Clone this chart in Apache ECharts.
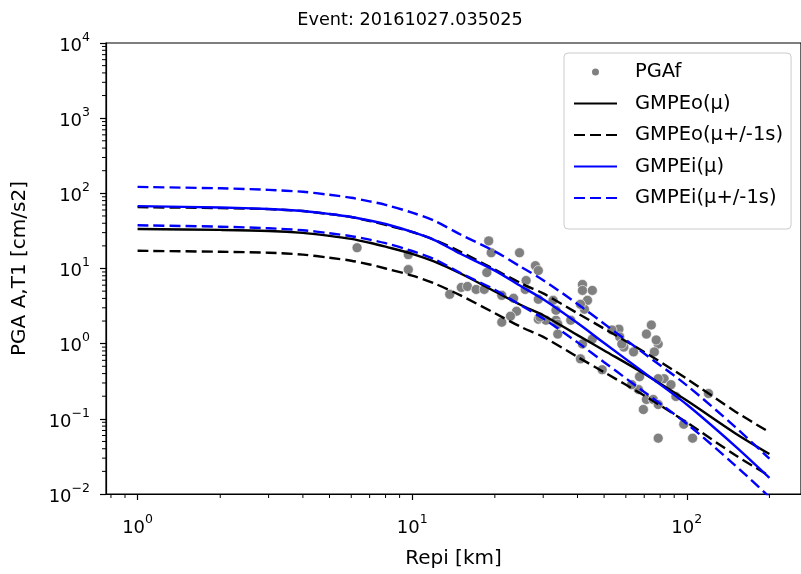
<!DOCTYPE html>
<html>
<head>
<meta charset="utf-8">
<script src="https://cdn.jsdelivr.net/npm/echarts@6/dist/echarts.min.js"></script>
<style>html,body{margin:0;padding:0;background:#fff;}#c{width:801px;height:574px;}</style>
</head>
<body>
<div id="c"></div>
<script>
// Distances (km) at which the model curves are read
const distances = [1, 2, 3, 4, 5, 6, 7, 8, 10, 12, 15, 20, 25, 30, 40, 50, 70, 100, 150, 200];
// GMPEo (black) mean and +/- 1 sigma
const gmpeoMean  = [33.6, 32.6, 31.6, 29.8, 27.2, 24.8, 22.0, 19.5, 15.7, 12.4, 8.57, 4.96, 3.24, 2.39, 1.30, 0.813, 0.398, 0.175, 0.0644, 0.0340];
const gmpeoUpper = [65.5, 63.6, 61.6, 58.1, 53.0, 48.4, 42.9, 38.0, 30.6, 24.2, 16.7, 9.67, 6.32, 4.66, 2.54, 1.585, 0.776, 0.341, 0.1256, 0.0663];
const gmpeoLower = [17.2, 16.7, 16.2, 15.3, 13.9, 12.7, 11.3, 10.0, 8.05, 6.36, 4.39, 2.54, 1.66, 1.23, 0.667, 0.417, 0.204, 0.0897, 0.0330, 0.0174];
// GMPEi (blue) mean and +/- 1 sigma
const gmpeiMean  = [67.6, 64.8, 61.8, 58.2, 53.1, 48.5, 43.5, 39.1, 30.7, 24.1, 15.7, 9.38, 5.77, 3.89, 1.88, 1.02, 0.410, 0.155, 0.0434, 0.0164];
const gmpeiUpper = [121.7, 116.6, 111.2, 104.8, 95.6, 87.3, 78.3, 70.4, 55.3, 43.4, 28.3, 16.9, 10.4, 7.0, 3.38, 1.84, 0.738, 0.279, 0.0781, 0.0295];
const gmpeiLower = [37.6, 36.0, 34.3, 32.3, 29.5, 26.9, 24.2, 21.7, 17.1, 13.4, 8.72, 5.21, 3.21, 2.16, 1.04, 0.567, 0.228, 0.0861, 0.0241, 0.0091];
// Observed PGAf points
const pgaDist = [6.30, 9.68, 9.68, 19.0, 19.4, 24.6, 18.7, 28.1, 26.0, 15.1, 15.9, 17.1, 18.3, 13.7, 21.2, 23.4, 28.8, 25.8, 24.0, 22.8,
  21.2, 28.8, 28.8, 41.7, 45.3, 41.7, 43.5, 42.4, 32.6, 30.7, 33.4, 33.9, 41.7, 45.3, 56.6, 57.0, 74.3, 71.3, 78.7, 59.0,
  64.0, 49.2, 41.0, 66.7, 71.3, 69.5, 75.5, 77.4, 76.2, 82.7, 87.6, 78.7, 91.3, 78.7, 120, 97.5, 78.7, 105, 37.8, 33.4,
  53.4, 58.0, 63.0, 29.2, 67.3, 33.9, 41.0];
const pgaVal = [18.9, 15.3, 9.67, 23.3, 16.2, 16.2, 8.83, 10.9, 6.92, 5.60, 5.77, 5.27, 5.27, 4.53, 4.39, 4.01, 3.89, 5.27, 2.70, 2.32,
  1.93, 2.12, 9.38, 6.13, 5.11, 5.11, 3.77, 2.87, 3.77, 2.05, 2.05, 1.34, 0.99, 1.15, 1.56, 1.23, 1.77, 1.34, 0.99, 0.90,
  0.777, 0.450, 0.628, 0.245, 0.181, 0.133, 0.181, 1.12, 0.777, 0.342, 0.285, 0.342, 0.198, 0.155, 0.217, 0.0846, 0.0553, 0.0553, 2.05, 2.78,
  1.52, 0.99, 0.285, 2.25, 0.364, 1.82, 3.34];
// Tick decades
const xTickExps = [0, 1, 2];
const yTickExps = [-2, -1, 0, 1, 2, 3, 4];

const L = Math.log10;
const xMin = -0.115, xMax = 2.416, yMin = -2, yMax = 4;
function minorTicks(lo, hi) {
  const out = [];
  for (let e = Math.floor(lo) - 1; e <= Math.ceil(hi); e++) {
    for (let k = 2; k <= 9; k++) {
      const v = e + L(k);
      if (v > lo + 1e-9 && v < hi - 1e-9) out.push(v);
    }
  }
  return out;
}
const xMinor = minorTicks(xMin, xMax);
const yMinor = minorTicks(yMin, yMax);
function supLabel(v) {
  const e = Math.round(v);
  const s = e < 0 ? '\u2212' + (-e) : String(e);
  return '{b|10}{s|' + s + '}';
}
const font = 'DejaVu Sans';
const richTick = {
  b: { fontFamily: font, fontSize: 18, color: '#000', lineHeight: 24, verticalAlign: 'bottom' },
  s: { fontFamily: font, fontSize: 12.5, color: '#000', lineHeight: 24, verticalAlign: 'top' }
};
const toPairs = (xs, ys) => xs.map((x, i) => [L(x), L(ys[i])]);

const blk = '#000000', blu = '#0000ff';
const dash = [11, 5];
const lw = 2.4;
function lineSeries(name, ys, color, dashed) {
  return {
    name: name, type: 'line', data: toPairs(distances, ys), smooth: 0.3,
    showSymbol: false, symbol: 'none',
    lineStyle: { color: color, width: lw, type: dashed ? dash : 'solid' },
    itemStyle: { color: color }, z: 3, animation: false
  };
}
const hideDot = { opacity: 0 };

// minor log ticks drawn through the axes' own coordinate conversion
function minorTickSeries(axis) {
  const data = axis === 'x' ? xMinor.map(v => [v, yMin]) : yMinor.map(v => [xMin, v]);
  return {
    type: 'custom', silent: true, z: 5, clip: false, animation: false,
    data: data,
    renderItem: function (params, api) {
      const p = api.coord([api.value(0), api.value(1)]);
      const shape = axis === 'x'
        ? { x1: p[0], y1: p[1], x2: p[0], y2: p[1] + 4 }
        : { x1: p[0], y1: p[1], x2: p[0] - 4, y2: p[1] };
      return { type: 'line', shape: shape, style: { stroke: '#000', lineWidth: 1, fill: null } };
    }
  };
}

const chart = echarts.init(document.getElementById('c'), null, { renderer: 'canvas' });
chart.setOption({
  animation: false,
  backgroundColor: '#ffffff',
  title: {
    text: 'Event: 20161027.035025', left: 410, top: 11, textAlign: 'center', padding: 0,
    textStyle: { fontFamily: font, fontSize: 17.7, fontWeight: 'normal', color: '#000' }
  },
  grid: { left: 106, right: -11, top: 43, bottom: 76, show: true, borderColor: '#000', borderWidth: 1.2, backgroundColor: 'transparent' },
  legend: {
    orient: 'vertical', left: 564, top: 53,
    padding: [9, 8, 21, 9], itemWidth: 43, itemHeight: 9, itemGap: 11.5,
    backgroundColor: '#ffffff', borderColor: '#cccccc', borderWidth: 1, borderRadius: 4,
    textStyle: { fontFamily: font, fontSize: 19.5, color: '#000', padding: [0, 0, 0, 13] },
    data: [
      { name: 'PGAf', icon: 'circle', itemStyle: { color: '#808080' } },
      { name: 'GMPEo(μ)', itemStyle: hideDot },
      { name: 'GMPEo(μ+/-1s)', itemStyle: hideDot },
      { name: 'GMPEi(μ)', itemStyle: hideDot },
      { name: 'GMPEi(μ+/-1s)', itemStyle: hideDot }
    ]
  },
  xAxis: {
    type: 'value', min: xMin, max: xMax, position: 'bottom',
    name: 'Repi [km]', nameLocation: 'middle', nameGap: 55,
    nameTextStyle: { fontFamily: font, fontSize: 20, color: '#000' },
    axisLine: { show: true, onZero: false, lineStyle: { color: '#000', width: 1.2 } },
    axisTick: { show: true, length: 6, customValues: xTickExps, lineStyle: { color: '#000', width: 1.2 } },
    axisLabel: { show: true, customValues: xTickExps, margin: 19, formatter: supLabel, rich: richTick },
    splitLine: { show: false }
  },
  yAxis: {
    type: 'value', min: yMin, max: yMax, position: 'left',
    name: 'PGA A,T1 [cm/s2]', nameLocation: 'middle', nameGap: 76, nameRotate: 90,
    nameTextStyle: { fontFamily: font, fontSize: 20, color: '#000' },
    axisLine: { show: true, onZero: false, lineStyle: { color: '#000', width: 1.2 } },
    axisTick: { show: true, length: 6, customValues: yTickExps, lineStyle: { color: '#000', width: 1.2 } },
    axisLabel: { show: true, customValues: yTickExps, margin: 16, formatter: supLabel, rich: richTick },
    splitLine: { show: false }
  },
  series: [
    {
      name: 'PGAf', type: 'scatter', data: toPairs(pgaDist, pgaVal), symbol: 'circle', symbolSize: 10,
      itemStyle: { color: '#808080', borderColor: '#ffffff', borderWidth: 0.6, opacity: 1 }, z: 2
    },
    lineSeries('GMPEo(μ)', gmpeoMean, blk, false),
    lineSeries('GMPEo(μ+/-1s)', gmpeoUpper, blk, true),
    lineSeries('GMPEo(μ+/-1s)', gmpeoLower, blk, true),
    lineSeries('GMPEi(μ)', gmpeiMean, blu, false),
    lineSeries('GMPEi(μ+/-1s)', gmpeiUpper, blu, true),
    lineSeries('GMPEi(μ+/-1s)', gmpeiLower, blu, true),
    minorTickSeries('x'),
    minorTickSeries('y')
  ]
});
</script>
</body>
</html>
